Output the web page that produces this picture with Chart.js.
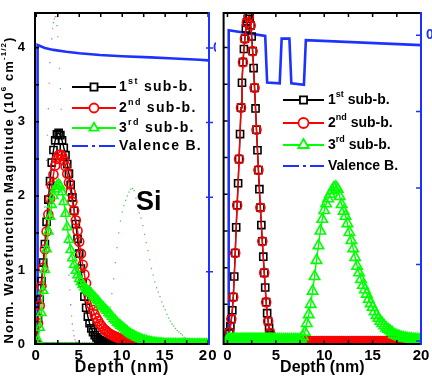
<!DOCTYPE html>
<html>
<head>
<meta charset="utf-8">
<title>Wavefunction magnitude vs depth</title>
<script src="https://cdn.jsdelivr.net/npm/chart.js@4.4.1/dist/chart.umd.min.js"></script>
<style>
  html, body { margin: 0; padding: 0; background: #fff; }
  #wrap { position: relative; width: 432px; height: 381px; overflow: hidden; }
  canvas { position: absolute; top: 0; display: block; }
  #leftChart { left: 0; }
  #rightChart { left: 216px; }
</style>
</head>
<body>
<div id="wrap">
  <canvas id="leftChart" width="216" height="381"></canvas>
  <canvas id="rightChart" width="216" height="381"></canvas>
</div>
<script>
// ---- data ----
// left panel (Si): depth grid in nm
const depthLeft = [
  0, 0.2, 0.4, 0.6, 0.8, 1, 1.2, 1.4, 1.6, 1.8,
  2, 2.2, 2.4, 2.6, 2.8, 3, 3.2, 3.4, 3.6, 3.8,
  4, 4.2, 4.4, 4.6, 4.8, 5, 5.2, 5.4, 5.6, 5.8,
  6, 6.2, 6.4, 6.6, 6.8, 7, 7.2, 7.4, 7.6, 7.8,
  8, 8.2, 8.4, 8.6, 8.8, 9, 9.2, 9.4, 9.6, 9.8,
  10, 10.2, 10.4, 10.6, 10.8, 11, 11.2, 11.4, 11.6, 11.8,
  12, 12.2, 12.4, 12.6, 12.8, 13, 13.2, 13.4, 13.6, 13.8,
  14, 14.2, 14.4, 14.6, 14.8, 15, 15.2, 15.4, 15.6, 15.8,
  16, 16.2, 16.4, 16.6, 16.8, 17, 17.2, 17.4, 17.6, 17.8,
  18, 18.2, 18.4, 18.6, 18.8, 19, 19.2, 19.4, 19.6, 19.8,
  20
];
const sub1Left = [
  0, 0.35, 0.6, 0.85, 1.1, 1.35, 1.65, 1.95, 2.2, 2.45,
  2.62, 2.75, 2.83, 2.85, 2.82, 2.75, 2.65, 2.55, 2.43, 2.3,
  2.15, 1.98, 1.8, 1.62, 1.42, 1.22, 1.02, 0.82, 0.64, 0.49,
  0.37, 0.28, 0.21, 0.16, 0.12, 0.09, 0.07, 0.05, 0.04, 0.03,
  0.02, 0.015, 0.01, 0.007, 0.005, 0.003, 0, 0, 0, 0,
  0, 0, 0, 0, 0, 0, 0, 0, 0, 0,
  0, 0, 0, 0, 0, 0, 0, 0, 0, 0,
  0, 0, 0, 0, 0, 0, 0, 0, 0, 0,
  0, 0, 0, 0, 0, 0, 0, 0, 0, 0,
  0, 0, 0, 0, 0, 0, 0, 0, 0, 0,
  0
];
const sub2Left = [
  0, 0.28, 0.52, 0.78, 1.03, 1.28, 1.52, 1.75, 1.96, 2.14,
  2.29, 2.41, 2.5, 2.55, 2.56, 2.54, 2.48, 2.4, 2.3, 2.18,
  2.05, 1.92, 1.8, 1.67, 1.53, 1.38, 1.22, 1.07, 0.94, 0.82,
  0.71, 0.61, 0.53, 0.46, 0.4, 0.35, 0.31, 0.27, 0.24, 0.21,
  0.19, 0.17, 0.15, 0.135, 0.12, 0.11, 0.1, 0.09, 0.08, 0.072,
  0.064, 0.057, 0.05, 0.044, 0.038, 0.033, 0.028, 0.024, 0.02, 0.017,
  0.014, 0.011, 0.008, 0.006, 0.004, 0.002, 0, 0, 0, 0,
  0, 0, 0, 0, 0, 0, 0, 0, 0, 0,
  0, 0, 0, 0, 0, 0, 0, 0, 0, 0,
  0, 0, 0, 0, 0, 0, 0, 0, 0, 0,
  0
];
const sub3Left = [
  0, 0.05, 0.22, 0.42, 0.72, 1, 1.28, 1.52, 1.72, 1.88,
  2, 2.09, 2.14, 2.16, 2.13, 2.05, 1.92, 1.76, 1.58, 1.41,
  1.27, 1.16, 1.07, 0.99, 0.93, 0.88, 0.84, 0.8, 0.77, 0.74,
  0.72, 0.7, 0.68, 0.65, 0.63, 0.6, 0.58, 0.55, 0.52, 0.5,
  0.47, 0.45, 0.42, 0.4, 0.37, 0.34, 0.32, 0.29, 0.27, 0.25,
  0.23, 0.21, 0.19, 0.17, 0.15, 0.135, 0.12, 0.11, 0.095, 0.085,
  0.075, 0.065, 0.057, 0.05, 0.043, 0.037, 0.031, 0.027, 0.023, 0.019,
  0.016, 0.013, 0.011, 0.009, 0.007, 0.006, 0.005, 0.004, 0.004, 0.003,
  0.003, 0.003, 0.002, 0.002, 0.002, 0.002, 0.001, 0.001, 0.001, 0.001,
  0.001, 0.001, 0, 0, 0, 0, 0, 0, 0, 0,
  0
];
// valence band edge, left panel (right axis, eV)
const vbDepthLeft = [0.12, 0.15, 1, 2, 3.5, 5, 7.4, 10, 13.3, 16, 19, 20];
const vbLeft = [-4.5, 0.04, 0, -0.025, -0.05, -0.07, -0.094, -0.11, -0.125, -0.14, -0.157, -0.165];

// right panel: finer grid near the surface
const depthRight = [
  0, 0.1, 0.2, 0.3, 0.4, 0.5, 0.6, 0.7, 0.8, 0.9,
  1, 1.1, 1.2, 1.3, 1.4, 1.5, 1.6, 1.7, 1.8, 1.9,
  2, 2.1, 2.2, 2.3, 2.4, 2.5, 2.6, 2.7, 2.8, 2.9,
  3, 3.1, 3.2, 3.3, 3.4, 3.5, 3.6, 3.7, 3.8, 3.9,
  4, 4.1, 4.2, 4.3, 4.4, 4.5, 4.6, 4.7, 4.8, 4.9,
  5,
  5.2, 5.4, 5.6, 5.8, 6, 6.2, 6.4, 6.6, 6.8, 7,
  7.2, 7.4, 7.6, 7.8, 8, 8.2, 8.4, 8.6, 8.8, 9,
  9.2, 9.4, 9.6, 9.8, 10, 10.2, 10.4, 10.6, 10.8, 11,
  11.2, 11.4, 11.6, 11.8, 12, 12.2, 12.4, 12.6, 12.8, 13,
  13.2, 13.4, 13.6, 13.8, 14, 14.2, 14.4, 14.6, 14.8, 15,
  15.2, 15.4, 15.6, 15.8, 16, 16.2, 16.4, 16.6, 16.8, 17,
  17.2, 17.4, 17.6, 17.8, 18, 18.2, 18.4, 18.6, 18.8, 19,
  19.2, 19.4, 19.6, 19.8, 20
];
const sub1Right = [
  0, 0.05, 0.12, 0.2, 0.3, 0.42, 0.6, 0.88, 1.2, 1.55,
  1.85, 2.15, 2.48, 2.82, 3.18, 3.52, 3.8, 3.98, 4.12, 4.26,
  4.34, 4.39, 4.42, 4.42, 4.3, 4.15, 3.95, 3.72, 3.45, 3.17,
  2.88, 2.6, 2.33, 2.07, 1.82, 1.58, 1.36, 1.15, 0.93, 0.73,
  0.53, 0.38, 0.27, 0.18, 0.11, 0.06, 0.03, 0.01, 0, 0,
  0,
  0, 0, 0, 0, 0, 0, 0, 0, 0, 0,
  0, 0, 0, 0, 0, 0, 0, 0, 0, 0,
  0, 0, 0, 0, 0, 0, 0, 0, 0, 0,
  0, 0, 0, 0, 0, 0, 0, 0, 0, 0,
  0, 0, 0, 0, 0, 0, 0, 0, 0, 0,
  0, 0, 0, 0, 0, 0, 0, 0, 0, 0,
  0, 0, 0, 0, 0, 0, 0, 0, 0, 0,
  0, 0, 0, 0, 0
];
const sub2Right = [
  0, 0.05, 0.12, 0.2, 0.3, 0.42, 0.6, 0.88, 1.2, 1.55,
  1.85, 2.15, 2.48, 2.82, 3.18, 3.52, 3.8, 3.98, 4.12, 4.26,
  4.34, 4.39, 4.42, 4.42, 4.3, 4.15, 3.95, 3.72, 3.45, 3.17,
  2.88, 2.6, 2.33, 2.07, 1.82, 1.58, 1.36, 1.15, 0.93, 0.73,
  0.53, 0.38, 0.27, 0.18, 0.11, 0.06, 0.03, 0.01, 0, 0,
  0,
  0, 0, 0, 0, 0, 0, 0, 0, 0, 0,
  0, 0, 0, 0, 0, 0, 0, 0, 0, 0,
  0, 0, 0, 0, 0, 0, 0, 0, 0, 0,
  0, 0, 0, 0, 0, 0, 0, 0, 0, 0,
  0, 0, 0, 0, 0, 0, 0, 0, 0, 0,
  0, 0, 0, 0, 0, 0, 0, 0, 0, 0,
  0, 0, 0, 0, 0, 0, 0, 0, 0, 0,
  0, 0, 0, 0, 0
];
const sub3Right = [
  0.02, 0.02, 0.02, 0.02, 0.02, 0.02, 0.02, 0.02, 0.02, 0.02,
  0.02, 0.02, 0.02, 0.02, 0.02, 0.02, 0.02, 0.02, 0.02, 0.02,
  0.02, 0.02, 0.02, 0.02, 0.02, 0.02, 0.02, 0.02, 0.02, 0.02,
  0.02, 0.02, 0.02, 0.02, 0.02, 0.02, 0.02, 0.02, 0.02, 0.02,
  0.02, 0.02, 0.02, 0.02, 0.02, 0.02, 0.02, 0.02, 0.02, 0.02,
  0.02,
  0.02, 0.02, 0.02, 0.02, 0.02, 0.02, 0.02, 0.02, 0.02, 0.02,
  0.02, 0.02, 0.03, 0.06, 0.12, 0.24, 0.36, 0.5, 0.68, 0.88,
  1.1, 1.3, 1.5, 1.66, 1.78, 1.87, 1.94, 2, 2.05, 2.09,
  2.1, 2.07, 1.97, 1.86, 1.77, 1.7, 1.6, 1.48, 1.37, 1.26,
  1.14, 1.02, 0.93, 0.84, 0.76, 0.7, 0.64, 0.57, 0.51, 0.46,
  0.4, 0.35, 0.31, 0.27, 0.24, 0.21, 0.18, 0.16, 0.14, 0.12,
  0.09, 0.08, 0.07, 0.06, 0.05, 0.045, 0.04, 0.035, 0.03, 0.03,
  0.025, 0.025, 0.02, 0.02, 0.02
];
// valence band edge with the two dips, right panel
const vbDepthRight = [0.1, 0.13, 3.9, 4.1, 5.4, 5.6, 6.4, 6.6, 7.9, 8.1, 20];
const vbRight = [-4.5, 0.065, -0.01, -0.62, -0.63, -0.045, -0.045, -0.63, -0.65, -0.065, -0.13];

const legendNames = [['1', 'st', ' sub-b.'], ['2', 'nd', ' sub-b.'], ['3', 'rd', ' sub-b.'], ['Valence B.']];
const yTitle = ['Norm. Wavefunction Magnitude (10', '6', ' cm', '-1/2', ')'];

// ---- drawing ----
const BLUE = '#1e32ff';
const FONT = 'Arial, "Liberation Sans", sans-serif';
Chart.defaults.font.family = FONT;
Chart.defaults.color = '#000';

function points(xs, ys) {
  return xs.map((x, i) => ({ x: x, y: ys[i] }));
}

function curve(xs, ys, color, style, radius, order) {
  return {
    data: points(xs, ys),
    borderColor: color,
    borderWidth: 1.4,
    pointStyle: style,
    pointRadius: radius,
    pointBorderColor: color,
    pointBorderWidth: 1.6,
    pointBackgroundColor: 'rgba(0,0,0,0)',
    tension: 0,
    order: order,
    yAxisID: 'y'
  };
}

function valence(xs, ys) {
  return { data: points(xs, ys), borderColor: BLUE, borderWidth: 2.6, pointRadius: 0, tension: 0, order: 5, yAxisID: 'y2' };
}

function ghost(xs, ys, color) {
  return { data: points(xs, ys), showLine: false, pointStyle: 'rect', pointRadius: 0.9, pointBorderWidth: 0, pointBackgroundColor: color, order: 6, yAxisID: 'y' };
}

const noGrid = { display: false, drawTicks: false };

function xAxis(min, max, size) {
  return {
    type: 'linear', min: min, max: max,
    grid: noGrid, border: { display: false },
    ticks: { stepSize: 5, includeBounds: false, padding: 3, maxRotation: 0, autoSkip: false, font: { size: 15, weight: 'bold' } },
    title: { display: true, text: 'Depth (nm)', font: { size: size, weight: 'bold' }, padding: { top: 0, bottom: 4 } },
    afterFit: s => { s.height = 37; s.paddingLeft = 0; s.paddingRight = 0; }
  };
}

function marker(ctx, style, r, x, y) {
  ctx.beginPath();
  if (style === 'rect') {
    const s = r * Math.SQRT1_2;
    ctx.rect(x - s, y - s, 2 * s, 2 * s);
  } else if (style === 'circle') {
    ctx.arc(x, y, r, 0, Math.PI * 2);
  } else {
    ctx.moveTo(x, y - r);
    ctx.lineTo(x + r * 0.866, y + r / 2);
    ctx.lineTo(x - r * 0.866, y + r / 2);
    ctx.closePath();
  }
  ctx.fill();
  ctx.stroke();
}

// text with every second part raised as superscript
function richText(ctx, parts, x, y, size, spacing, draw) {
  let cx = x;
  parts.forEach((p, i) => {
    const sup = i % 2 === 1;
    ctx.font = 'bold ' + (sup ? Math.round(size * 0.64) : size) + 'px ' + FONT;
    ctx.letterSpacing = spacing + 'px';
    if (draw) ctx.fillText(p, cx, sup ? y - size * 0.42 : y);
    cx += ctx.measureText(p).width;
  });
  ctx.letterSpacing = '0px';
  return cx - x;
}

function drawFrame(chart, cfg) {
  const { ctx, chartArea: a, scales } = chart;
  ctx.save();
  ctx.strokeStyle = '#000';
  ctx.lineWidth = 1.5;
  ctx.beginPath();
  for (let v = 0; v <= 20; v += 2.5) {
    const px = scales.x.getPixelForValue(v);
    ctx.moveTo(px, a.bottom); ctx.lineTo(px, a.bottom - 4);
    ctx.moveTo(px, a.top); ctx.lineTo(px, a.top + 4);
  }
  for (let v = 0.5; v <= scales.y.max; v += 0.5) {
    const py = scales.y.getPixelForValue(v);
    ctx.moveTo(a.left, py); ctx.lineTo(a.left + 4, py);
  }
  ctx.stroke();
  ctx.strokeStyle = BLUE;
  ctx.beginPath();
  for (let v = 0; v >= scales.y2.min; v -= 1) {
    const py = scales.y2.getPixelForValue(v);
    ctx.moveTo(a.right - cfg.tickIn, py); ctx.lineTo(a.right + cfg.tickOut, py);
  }
  ctx.stroke();
  ctx.lineWidth = 2;
  ctx.strokeStyle = '#000';
  ctx.beginPath();
  ctx.moveTo(a.right, a.top); ctx.lineTo(a.left, a.top);
  ctx.lineTo(a.left, a.bottom); ctx.lineTo(a.right, a.bottom);
  ctx.stroke();
  ctx.strokeStyle = BLUE;
  ctx.beginPath();
  ctx.moveTo(a.right, a.top - 1); ctx.lineTo(a.right, a.bottom + 1);
  ctx.stroke();
  ctx.restore();
}

function drawLegend(chart, L) {
  const ctx = chart.ctx;
  const ds = chart.data.datasets;
  ctx.save();
  ctx.textBaseline = 'middle';
  ctx.textAlign = 'left';
  legendNames.forEach((name, i) => {
    const d = ds[i];
    const y = L.rows[i];
    ctx.strokeStyle = d.borderColor;
    ctx.lineWidth = 2;
    ctx.setLineDash(d.pointStyle ? [] : [16, 4, 3, 4]);
    ctx.beginPath(); ctx.moveTo(L.x0, y); ctx.lineTo(L.x1, y); ctx.stroke();
    ctx.setLineDash([]);
    if (d.pointStyle) {
      ctx.fillStyle = '#fff';
      ctx.lineWidth = 1.8;
      marker(ctx, d.pointStyle, L.radius[i], (L.x0 + L.x1) / 2, y);
    }
    ctx.fillStyle = '#000';
    richText(ctx, name, L.tx, y, L.size, L.spacing, true);
  });
  ctx.restore();
}

function decor(cfg) {
  return {
    id: 'decor',
    beforeDraw(chart) { chart.ctx.letterSpacing = cfg.spacing + 'px'; },
    afterDatasetsDraw(chart) { drawFrame(chart, cfg); },
    afterDraw(chart) {
      chart.ctx.letterSpacing = '0px';
      drawLegend(chart, cfg.legend);
      if (cfg.extra) cfg.extra(chart);
    }
  };
}

function leftExtras(chart) {
  const ctx = chart.ctx;
  ctx.save();
  ctx.fillStyle = '#000';
  ctx.textAlign = 'left';
  ctx.textBaseline = 'alphabetic';
  ctx.font = 'bold 27px ' + FONT;
  ctx.fillText('Si', 136, 210);
  ctx.translate(9, 190);
  ctx.rotate(-Math.PI / 2);
  ctx.textBaseline = 'middle';
  const w = richText(ctx, yTitle, 0, 0, 13, 1.1, false);
  richText(ctx, yTitle, -w / 2, 0, 13, 1.1, true);
  ctx.restore();
}

const baseOptions = {
  responsive: false,
  animation: false,
  events: [],
  layout: { padding: { top: 13, left: 0, right: 0, bottom: 0 } },
  plugins: { legend: { display: false }, tooltip: { enabled: false } }
};

new Chart(document.getElementById('leftChart'), {
  type: 'line',
  data: {
    datasets: [
      curve(depthLeft, sub1Left, '#000', 'rect', 5, 3),
      curve(depthLeft, sub2Left, '#ff0000', 'circle', 4.5, 2),
      curve(depthLeft, sub3Left, '#00ff00', 'triangle', 5.2, 1),
      valence(vbDepthLeft, vbLeft),
      ghost(depthRight, sub3Right, 'rgba(40,170,40,0.75)'),
      ghost(depthRight, sub1Right, c => c.dataIndex % 2 ? 'rgba(255,70,70,0.7)' : 'rgba(50,70,255,0.7)')
    ]
  },
  options: Object.assign({}, baseOptions, {
    scales: {
      x: xAxis(-0.15, 20.1, 16),
      y: {
        type: 'linear', position: 'left', min: 0, max: 4.47,
        grid: noGrid, border: { display: false },
        ticks: { stepSize: 1, includeBounds: false, padding: 9, font: { size: 13, weight: 'bold' } },
        afterFit: s => { s.width = 35; s.paddingTop = 0; s.paddingBottom = 0; }
      },
      y2: {
        type: 'linear', position: 'right', min: -3.97, max: 0.47,
        grid: noGrid, border: { display: false },
        ticks: { stepSize: 1, includeBounds: false, padding: 4, color: BLUE, font: { size: 14, weight: 'bold' }, callback: v => (v === 0 ? '0' : '') },
        afterFit: s => { s.width = 7; s.paddingTop = 0; s.paddingBottom = 0; }
      }
    }
  }),
  plugins: [decor({
    spacing: 1, tickIn: 3, tickOut: 4, extra: leftExtras,
    legend: { x0: 72, x1: 116, tx: 119, rows: [87, 108, 128, 146], radius: [5, 4.5, 5.2], size: 14, spacing: 1.3 }
  })]
});

const sub2RightStyle = curve(depthRight, sub2Right, '#ff0000', 'circle', 4.5, 2);
sub2RightStyle.pointRadius = c => (depthRight[c.dataIndex] < 5 && c.dataIndex % 2 === 1 ? 0 : 4.5);

new Chart(document.getElementById('rightChart'), {
  type: 'line',
  data: {
    datasets: [
      curve(depthRight, sub1Right, '#000', 'rect', 5, 3),
      sub2RightStyle,
      curve(depthRight, sub3Right, '#00ff00', 'triangle', 6, 1),
      valence(vbDepthRight, vbRight)
    ]
  },
  options: Object.assign({}, baseOptions, {
    scales: {
      x: xAxis(-0.4, 20, 16),
      y: {
        type: 'linear', position: 'left', min: -0.04, max: 4.47,
        grid: noGrid, border: { display: false },
        ticks: { display: false },
        afterFit: s => { s.width = 2; s.paddingTop = 0; s.paddingBottom = 0; }
      },
      y2: {
        type: 'linear', position: 'right', min: -4.04, max: 0.29,
        grid: noGrid, border: { display: false },
        ticks: { stepSize: 1, includeBounds: false, padding: 5, color: BLUE, font: { size: 14, weight: 'bold' }, callback: v => (v === 0 ? '0' : '') },
        afterFit: s => { s.width = 11; s.paddingTop = 0; s.paddingBottom = 0; }
      }
    }
  }),
  plugins: [decor({
    spacing: 0, tickIn: 5, tickOut: 0,
    legend: { x0: 67, x1: 108, tx: 112, rows: [100, 123, 145, 166], radius: [5, 5, 6], size: 14, spacing: 0 }
  })]
});
</script>
</body>
</html>
